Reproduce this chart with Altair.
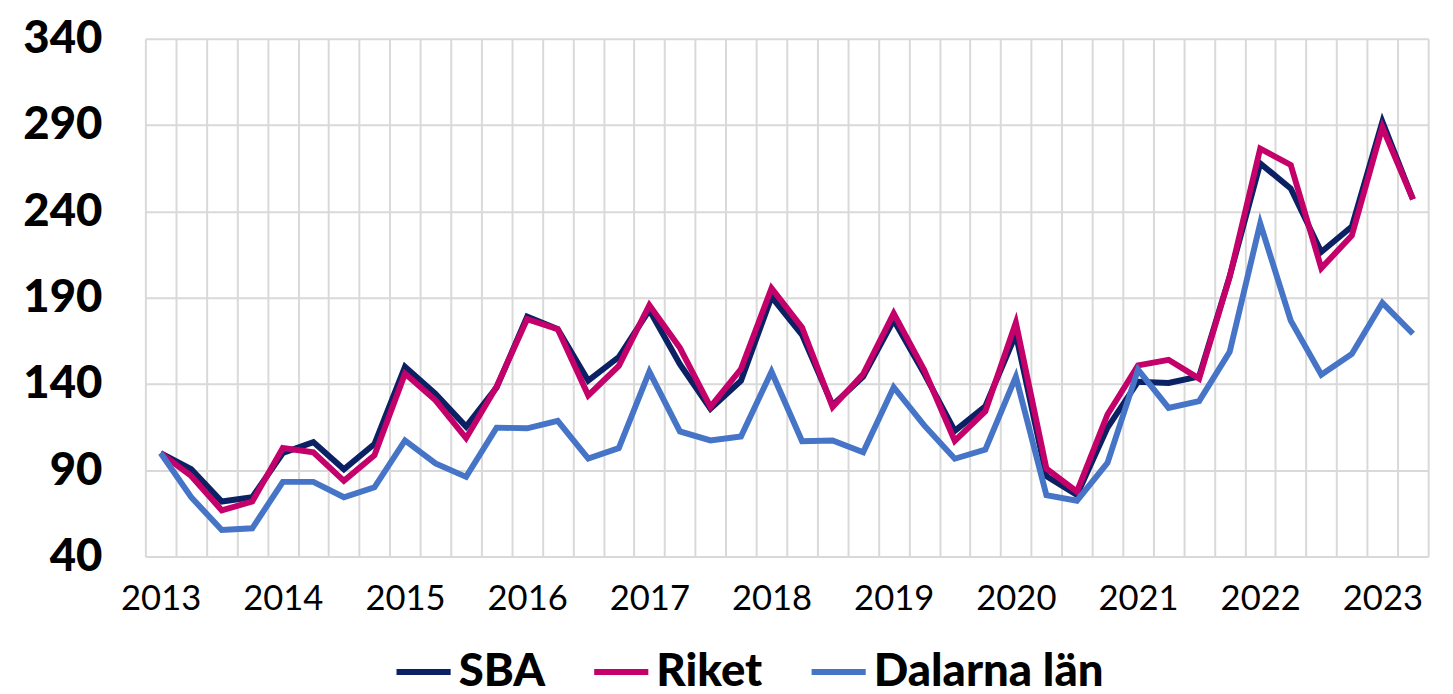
import altair as alt
import pandas as pd

# Quarterly index, 2013 Q1 .. 2023 Q2 (2013 Q1 = 100)
years = [2013, 2014, 2015, 2016, 2017, 2018, 2019, 2020, 2021, 2022, 2023]
series_names = ["SBA", "Riket", "Dalarna län"]
series_colors = ["#0B2164", "#C4006A", "#4674C6"]

sba = [100, 90.6, 71.9, 74.4, 100, 106.3, 90.6, 105.2, 149.9, 134.2, 115.3, 138,
       179, 171.8, 141.9, 155.6, 182.8, 151.4, 125.7, 141.9, 190.4, 168.5, 127.7, 144.2,
       177, 146, 112.8, 127, 168.9, 86.6, 75.7, 114.7, 141.3, 140.6, 144.4, 202.3,
       267.8, 253.2, 216.5, 231.2, 291.9, 247]
riket = [100, 86.7, 66.8, 71.9, 102.9, 100.4, 83.9, 98.7, 146, 130.5, 108.6, 138.5,
         177.6, 171.8, 133.4, 150.5, 185.6, 160.9, 126.7, 148.6, 195.5, 172.7, 126.7, 145.7,
         180.9, 148, 107.1, 124.2, 175.5, 91, 77.6, 122.3, 150.8, 154, 143.1, 202,
         276.3, 266.9, 207.1, 226, 288.7, 247]
dalarna = [100, 74.4, 55.4, 56.4, 83.3, 83.3, 74.4, 80.1, 107.3, 94, 86.2, 114.7,
           114.3, 118.6, 96.8, 102.9, 147.1, 112.5, 107.3, 109.6, 147.1, 106.8, 107.3, 100.5,
           138.1, 116, 96.7, 102, 144.2, 75.6, 72.4, 94.3, 148.3, 126.1, 130.1, 158.6,
           233, 176.7, 145.4, 157.4, 187, 169.1]
y_ticks = [40, 90, 140, 190, 240, 290, 340]

rows = []
for name, vals in zip(series_names, [sba, riket, dalarna]):
    for i, v in enumerate(vals):
        rows.append({"idx": i, "serie": name, "value": v})
df = pd.DataFrame(rows)

n = len(sba)
PLOT_W = 1298
PLOT_H = 524
half_step = PLOT_W / n / 2

year_arr = "[" + ",".join(f"'{y}'" for y in years) + "]"
label_expr = f"((datum.value + 0.5) % 4 == 0) ? {year_arr}[(datum.value + 0.5) / 4] : ''"

x_enc = alt.X(
    "idx:Q",
    scale=alt.Scale(domain=[-0.5, n - 0.5], nice=False, zero=False),
    axis=alt.Axis(
        values=[i - 0.5 for i in range(n + 1)],
        grid=True, ticks=False, domain=False, title=None,
        labelExpr=label_expr, labelOffset=half_step,
        labelOverlap=False, labelFlush=False, labelBound=False,
        labelFont="Lato", labelFontSize=35, labelFontWeight=400,
        labelColor="#000000", labelPadding=26,
        gridColor="#D9D9D9", gridWidth=2,
    ),
)
y_enc = alt.Y(
    "value:Q",
    scale=alt.Scale(domain=[40, 340], nice=False, zero=False),
    axis=alt.Axis(
        values=y_ticks, grid=True, ticks=False, domain=False, title=None,
        labelFont="Lato", labelFontSize=46, labelFontWeight=900,
        labelColor="#000000", labelPadding=44,
        gridColor="#D9D9D9", gridWidth=2,
    ),
)
color_enc = alt.Color(
    "serie:N",
    scale=alt.Scale(domain=series_names, range=series_colors),
    legend=alt.Legend(
        title=None, orient="none", legendX=251, legendY=610,
        direction="horizontal", symbolType="stroke", symbolSize=3000,
        symbolStrokeWidth=6, labelFont="Lato", labelFontSize=46,
        labelFontWeight=900, labelColor="#000000", columnPadding=37,
        labelOffset=5, padding=0, labelLimit=0,
    ),
)

base = alt.Chart(df).encode(x=x_enc, y=y_enc, color=color_enc)
layers = [
    base.transform_filter(alt.datum.serie == name).mark_line(strokeWidth=6)
    for name in series_names
]

chart = alt.layer(*layers).properties(
    width=PLOT_W, height=PLOT_H,
    padding={"left": 14, "top": 4, "right": 1, "bottom": 0},
).configure_view(stroke=None)

chart.save("out.html", embed_options={"renderer": "svg", "actions": False})
